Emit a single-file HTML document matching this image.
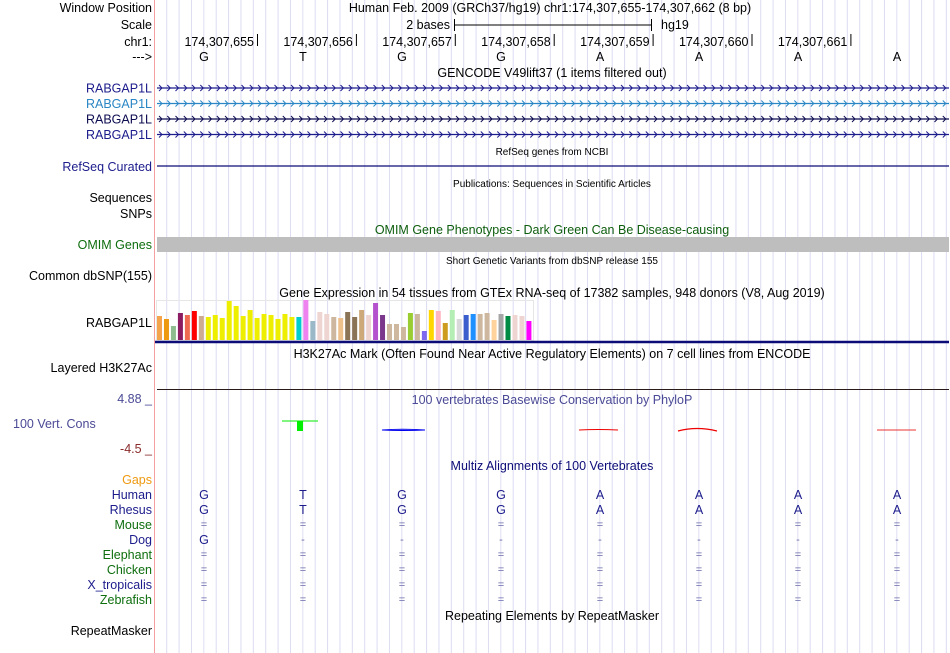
<!DOCTYPE html>
<html><head><meta charset="utf-8">
<style>
html,body{margin:0;padding:0;background:#fff;width:950px;height:653px;overflow:hidden}
svg{display:block;font-family:"Liberation Sans",sans-serif}
.l{font-size:12.5px;text-anchor:end}
.t{font-size:12.5px;text-anchor:middle}
.s{font-size:10px;text-anchor:middle}
</style></head><body>
<svg id="chart" width="950" height="653" viewBox="0 0 950 653">
<g id="grid"></g>
<line x1="154.5" y1="0" x2="154.5" y2="653" stroke="#f4a0a0" stroke-width="1"/>

<text class="l" x="152" y="12">Window Position</text>
<text class="t" x="550" y="12">Human Feb. 2009 (GRCh37/hg19)   chr1:174,307,655-174,307,662 (8 bp)</text>
<text class="l" x="152" y="29">Scale</text>
<text class="l" x="450" y="29">2 bases</text>
<g stroke="#000">
<line x1="454" y1="25" x2="651" y2="25"/><line x1="454.5" y1="19" x2="454.5" y2="31"/><line x1="651.5" y1="19" x2="651.5" y2="31"/></g>
<text x="661" y="29" font-size="12.5">hg19</text>
<text class="l" x="152" y="46">chr1:</text>
<g id="ruler"></g>
<text class="l" x="152" y="61">---&gt;</text>
<g id="bases"></g>

<text class="t" x="552" y="77">GENCODE V49lift37 (1 items filtered out)</text>
<g id="genes"></g>

<text class="s" x="552" y="155">RefSeq genes from NCBI</text>
<text class="l" x="152" y="171" fill="#1c1c8c">RefSeq Curated</text>
<line x1="157" y1="166" x2="949" y2="166" stroke="#0c0c78" stroke-width="1.3"/>

<text class="s" x="552" y="187">Publications: Sequences in Scientific Articles</text>
<text class="l" x="152" y="202">Sequences</text>
<text class="l" x="152" y="218">SNPs</text>

<text class="t" x="552" y="234" fill="#0e5e0e">OMIM Gene Phenotypes - Dark Green Can Be Disease-causing</text>
<text class="l" x="152" y="249" fill="#0e6e0e">OMIM Genes</text>
<rect x="157" y="237" width="792" height="15" fill="#bebebe"/>

<text class="s" x="552" y="264">Short Genetic Variants from dbSNP release 155</text>
<text class="l" x="152" y="280">Common dbSNP(155)</text>

<text class="t" x="552" y="297">Gene Expression in 54 tissues from GTEx RNA-seq of 17382 samples, 948 donors (V8, Aug 2019)</text>
<text class="l" x="152" y="327">RABGAP1L</text>
<rect x="156.5" y="300.5" width="377" height="40" fill="none" stroke="#e6e6e6"/>
<g id="gtex"></g>
<line x1="155" y1="342" x2="949" y2="342" stroke="#0c0c78" stroke-width="2.5"/>

<text class="t" x="552" y="358">H3K27Ac Mark (Often Found Near Active Regulatory Elements) on 7 cell lines from ENCODE</text>
<text class="l" x="152" y="372">Layered H3K27Ac</text>
<line x1="157" y1="389.5" x2="949" y2="389.5" stroke="#2a1a1a" stroke-width="1"/>

<text class="l" x="152" y="403" fill="#4a4a96">4.88 _</text>
<text class="t" x="552" y="404" fill="#4a4a96">100 vertebrates Basewise Conservation by PhyloP</text>
<text x="13" y="428" font-size="12.5" fill="#4a4a96">100 Vert. Cons</text>
<text class="l" x="152" y="453" fill="#8a2a2a">-4.5 _</text>
<g id="cons">
<line x1="282" y1="421" x2="318" y2="421" stroke="#00ee00" stroke-width="1"/>
<rect x="297" y="421" width="6" height="10" fill="#00ee00"/>
<path d="M382,430 Q403,428.5 425,430 Q403,431 382,430Z" fill="none" stroke="#0000ee" stroke-width="1"/>
<path d="M579,430 Q598,429 618,430" fill="none" stroke="#ee0000" stroke-width="1"/>
<path d="M678,431 Q697,426 717,431" fill="none" stroke="#ee0000" stroke-width="1.2"/>
<line x1="877" y1="430" x2="916" y2="430" stroke="#ee3333" stroke-width="1"/>
</g>

<text class="t" x="552" y="470" fill="#0c0c78">Multiz Alignments of 100 Vertebrates</text>
<g id="multiz"></g>

<text class="t" x="552" y="620">Repeating Elements by RepeatMasker</text>
<text class="l" x="152" y="635">RepeatMasker</text>
</svg>
<script>
const NS="http://www.w3.org/2000/svg";
function mk(tag,attrs,parent){const e=document.createElementNS(NS,tag);for(const k in attrs)e.setAttribute(k,attrs[k]);parent.appendChild(e);return e;}

const grid=document.getElementById('grid');
for(let k=0;k<64;k++){const x=166.7+12.375*k;if(x>949)break;
 const ln=mk('line',{x1:x,y1:0,x2:x,y2:653,stroke:'#dcdcf2','stroke-width':1},grid);
 
 }

const rulerLabels=["174,307,655","174,307,656","174,307,657","174,307,658","174,307,659","174,307,660","174,307,661"];
const ruler=document.getElementById('ruler');
rulerLabels.forEach((s,i)=>{const x=257+98.9*i;
 const t=mk('text',{x:x-3,y:46,'font-size':12.5,'text-anchor':'end'},ruler);t.textContent=s;
 
 
 mk('line',{x1:x+.5,y1:34,x2:x+.5,y2:46,stroke:'#000'},ruler);});

const seqHuman=["G","T","G","G","A","A","A","A"];
const colX=i=>204+99*i;
const bases=document.getElementById('bases');
seqHuman.forEach((b,i)=>{const t=mk('text',{x:colX(i),y:61,'font-size':12.5,'text-anchor':'middle'},bases);t.textContent=b;
 
 });

const geneColors=["#1c1c8c","#2a86c4","#0c0c50","#1c1c8c"];
const genes=document.getElementById('genes');
geneColors.forEach((c,i)=>{const y=88+15.5*i;
 const lab=mk('text',{x:152,y:y+4.5,'font-size':12.5,'text-anchor':'end',fill:c},genes);lab.textContent="RABGAP1L";
 
 
 const g=mk('g',{},genes);
 
 
 mk('line',{x1:157,y1:y,x2:949,y2:y,stroke:c,'stroke-width':1.2},g);
 let d="";for(let x=159;x<946;x+=8.25){d+=`M${x.toFixed(1)},${y-3}L${(x+3).toFixed(1)},${y}L${x.toFixed(1)},${y+3}`;}
 mk('path',{d:d,fill:'none',stroke:c,'stroke-width':1},g);});

const gtexValues=[24,21,14,27,25,29,24,23,25,22,39,34,24,30,22,26,25,21,26,23,23,40,19,28,26,23,22,28,23,30,25,37,25,16,16,13,27,26,9,30,29,17,30,21,25,26,26,27,20,26,24,25,24,19];
const gtexColors=["#f4a44c","#ee9a10","#8fbc8f","#8b1c62","#ee6a50","#ff0000","#cdaa92","#eeee00","#eeee00","#eeee00","#eeee00","#eeee00","#eeee00","#eeee00","#eeee00","#eeee00","#eeee00","#eeee00","#eeee00","#eeee00","#00cdcd","#ee82ee","#9ab8c8","#eed5d2","#eed5d2","#cdb79e","#eec08c","#8b7355","#8b7355","#cda878","#eed5d2","#b452cd","#7a378b","#cdb79e","#cdb79e","#cdb79e","#9acd32","#cdb79e","#7b68ee","#ffd700","#ffb6c1","#cd9b1d","#b4eeb4","#d9d9d9","#3a5fcd","#1e90ff","#cdb79e","#cdb79e","#ffd39b","#a6a6a6","#008b45","#eed5d2","#eed5d2","#ff00ff"];
const gtexMax=40, gtexBase=340, gtexH=40;
const gx=i=>157+6.97*i, gy=v=>gtexBase-v/gtexMax*gtexH;
const gtex=document.getElementById('gtex');
gtexValues.forEach((v,i)=>{const r=mk('rect',{x:gx(i),y:gy(v),width:5,height:gtexBase-gy(v),fill:gtexColors[i]},gtex);
 
 });

const species=["Gaps","Human","Rhesus","Mouse","Dog","Elephant","Chicken","X_tropicalis","Zebrafish"];
const speciesColors=["#ee9a10","#1c1c8c","#1c1c8c","#0e6e0e","#1c1c8c","#0e6e0e","#0e6e0e","#1c1c8c","#0e6e0e"];
const rows=[null,seqHuman,seqHuman,"========".split(""),["G","-","-","-","-","-","-","-"],"========".split(""),"========".split(""),"========".split(""),"========".split("")];
const mz=document.getElementById('multiz');
species.forEach((s,r)=>{const y=484+15*r;
 const t=mk('text',{x:152,y:y,'font-size':12.5,'text-anchor':'end',fill:speciesColors[r]},mz);t.textContent=s;
 
 
 if(rows[r])rows[r].forEach((b,i)=>{const small=(b==="="||b==="-");
  const c=mk('text',{x:colX(i),y:small?y-1:y,'font-size':small?11:12.5,'text-anchor':'middle',fill:small?'#6a6aaa':'#1c1c8c'},mz);c.textContent=b;
  
  });});
</script>
</body></html>
